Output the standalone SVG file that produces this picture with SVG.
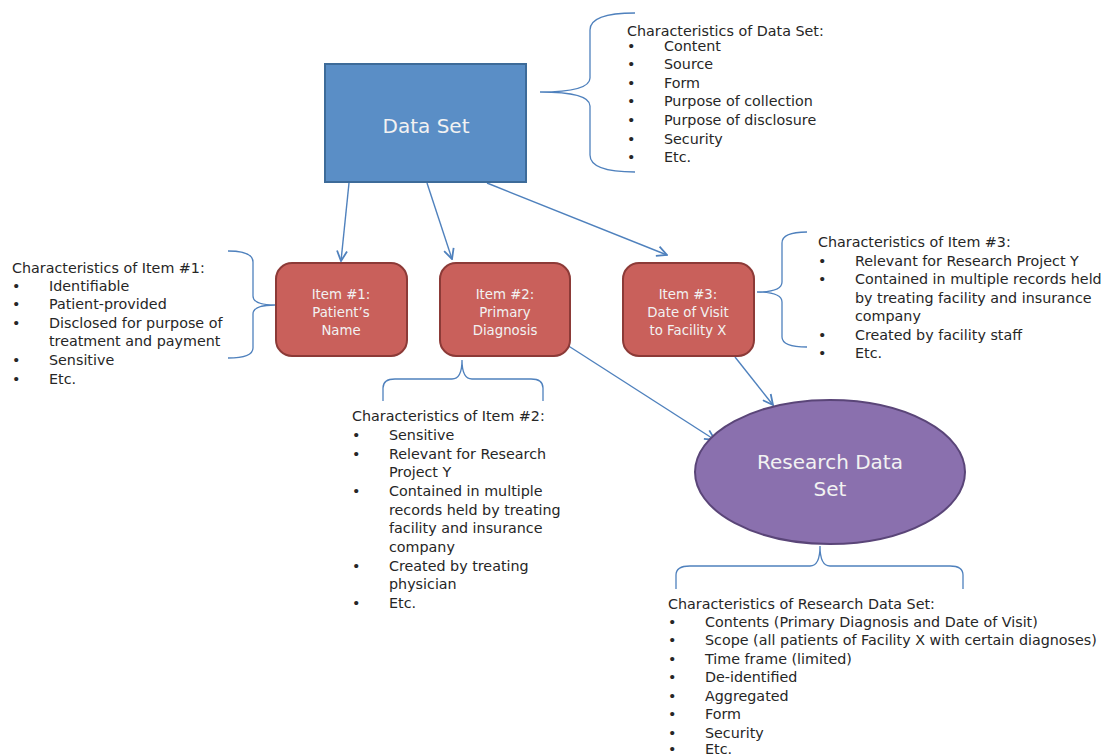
<svg xmlns="http://www.w3.org/2000/svg" width="1113" height="756" viewBox="0 0 1113 756">
<defs>
<marker id="arr" viewBox="0 0 12 12" refX="11" refY="6" markerWidth="12" markerHeight="12" markerUnits="userSpaceOnUse" orient="auto">
<path d="M1,1 L11,6 L1,11" fill="none" stroke="#4f81bd" stroke-width="1.8"/>
</marker>
<style>
.t{font-family:"DejaVu Sans","Liberation Sans",Arial,sans-serif;font-size:14.3px;fill:#262626}
.w{font-family:"DejaVu Sans","Liberation Sans",Arial,sans-serif;fill:#f2f2f2;text-anchor:middle}
.br{fill:none;stroke:#4f81bd;stroke-width:1.3}
.c{fill:none;stroke:#4f81bd;stroke-width:1.4;marker-end:url(#arr)}
.item{fill:#c9605b;stroke:#8c3a37;stroke-width:2}
</style>
</defs>
<rect width="1113" height="756" fill="#ffffff"/>

<g id="connectors">
<line class="c" x1="349" y1="183" x2="341" y2="261"/>
<line class="c" x1="427" y1="183" x2="452" y2="259"/>
<line class="c" x1="487" y1="183" x2="667" y2="255"/>
<line class="c" x1="567" y1="345" x2="715" y2="440"/>
<line class="c" x1="735" y1="357" x2="773" y2="405"/>
</g>

<g id="dataset">
<rect x="325" y="64" width="201" height="118" fill="#5a8ec6" stroke="#3d6b99" stroke-width="2"/>
<text class="w" x="426" y="133" font-size="20">Data Set</text>
</g>

<g id="dataset-brace">
<path class="br" d="M635,13 Q590,13 590,30 L590,78 Q590,92 540,92 Q590,92 590,106 L590,155 Q590,172 635,172"/>
<g class="t">
<text x="627" y="36">Characteristics of Data Set:</text>
<text x="627" y="51">•</text><text x="664" y="51">Content</text>
<text x="627" y="69">•</text><text x="664" y="69">Source</text>
<text x="627" y="88">•</text><text x="664" y="88">Form</text>
<text x="627" y="106">•</text><text x="664" y="106">Purpose of collection</text>
<text x="627" y="125">•</text><text x="664" y="125">Purpose of disclosure</text>
<text x="627" y="144">•</text><text x="664" y="144">Security</text>
<text x="627" y="162">•</text><text x="664" y="162">Etc.</text>
</g>
</g>

<g id="item1">
<rect class="item" x="276" y="263" width="131" height="93" rx="16"/>
<g class="w" font-size="13.3">
<text x="341" y="299">Item #1:</text>
<text x="341" y="317">Patient’s</text>
<text x="341" y="335">Name</text>
</g>
</g>

<g id="item1-brace">
<path class="br" d="M228,251 Q253,251 253,262 L253,296 Q253,305 275,305 Q253,305 253,314 L253,348 Q253,358 228,358"/>
<g class="t">
<text x="12" y="273">Characteristics of Item #1:</text>
<text x="12" y="291">•</text><text x="49" y="291">Identifiable</text>
<text x="12" y="309">•</text><text x="49" y="309">Patient-provided</text>
<text x="12" y="328">•</text><text x="49" y="328">Disclosed for purpose of</text>
<text x="49" y="346">treatment and payment</text>
<text x="12" y="365">•</text><text x="49" y="365">Sensitive</text>
<text x="12" y="384">•</text><text x="49" y="384">Etc.</text>
</g>
</g>

<g id="item2">
<rect class="item" x="440" y="263" width="130" height="93" rx="16"/>
<g class="w" font-size="13.3">
<text x="505" y="299">Item #2:</text>
<text x="505" y="317">Primary</text>
<text x="505" y="335">Diagnosis</text>
</g>
</g>

<g id="item2-brace">
<path class="br" d="M383,401 L383,388 Q383,379 395,379 L452,379 Q462,379 462,360 Q462,379 472,379 L531,379 Q543,379 543,388 L543,401"/>
<g class="t">
<text x="352" y="421">Characteristics of Item #2:</text>
<text x="352" y="440">•</text><text x="389" y="440">Sensitive</text>
<text x="352" y="459">•</text><text x="389" y="459">Relevant for Research</text>
<text x="389" y="477">Project Y</text>
<text x="352" y="496">•</text><text x="389" y="496">Contained in multiple</text>
<text x="389" y="515">records held by treating</text>
<text x="389" y="533">facility and insurance</text>
<text x="389" y="552">company</text>
<text x="352" y="571">•</text><text x="389" y="571">Created by treating</text>
<text x="389" y="589">physician</text>
<text x="352" y="608">•</text><text x="389" y="608">Etc.</text>
</g>
</g>

<g id="item3">
<rect class="item" x="623" y="263" width="131" height="93" rx="16"/>
<g class="w" font-size="13.3">
<text x="688" y="299">Item #3:</text>
<text x="688" y="317">Date of Visit</text>
<text x="688" y="335">to Facility X</text>
</g>
</g>

<g id="item3-brace">
<path class="br" d="M807,232 Q782,232 782,243 L782,282 Q782,292 757,292 Q782,292 782,302 L782,337 Q782,347 807,347"/>
<g class="t">
<text x="818" y="247">Characteristics of Item #3:</text>
<text x="818" y="266">•</text><text x="855" y="266">Relevant for Research Project Y</text>
<text x="818" y="284">•</text><text x="855" y="284">Contained in multiple records held</text>
<text x="855" y="303">by treating facility and insurance</text>
<text x="855" y="321">company</text>
<text x="818" y="340">•</text><text x="855" y="340">Created by facility staff</text>
<text x="818" y="358">•</text><text x="855" y="358">Etc.</text>
</g>
</g>

<g id="research">
<ellipse cx="830" cy="472" rx="135" ry="72" fill="#8a70ae" stroke="#5a4578" stroke-width="2"/>
<g class="w" font-size="20">
<text x="830" y="469">Research Data</text>
<text x="830" y="496">Set</text>
</g>
</g>

<g id="research-brace">
<path class="br" d="M676,589 L676,575 Q676,566 690,566 L810,566 Q820,566 820,546 Q820,566 830,566 L950,566 Q963,566 963,575 L963,589"/>
<g class="t">
<text x="668" y="609">Characteristics of Research Data Set:</text>
<text x="668" y="627">•</text><text x="705" y="627">Contents (Primary Diagnosis and Date of Visit)</text>
<text x="668" y="645">•</text><text x="705" y="645">Scope (all patients of Facility X with certain diagnoses)</text>
<text x="668" y="664">•</text><text x="705" y="664">Time frame (limited)</text>
<text x="668" y="682">•</text><text x="705" y="682">De-identified</text>
<text x="668" y="701">•</text><text x="705" y="701">Aggregated</text>
<text x="668" y="719">•</text><text x="705" y="719">Form</text>
<text x="668" y="738">•</text><text x="705" y="738">Security</text>
<text x="668" y="754">•</text><text x="705" y="754">Etc.</text>
</g>
</g>
</svg>
